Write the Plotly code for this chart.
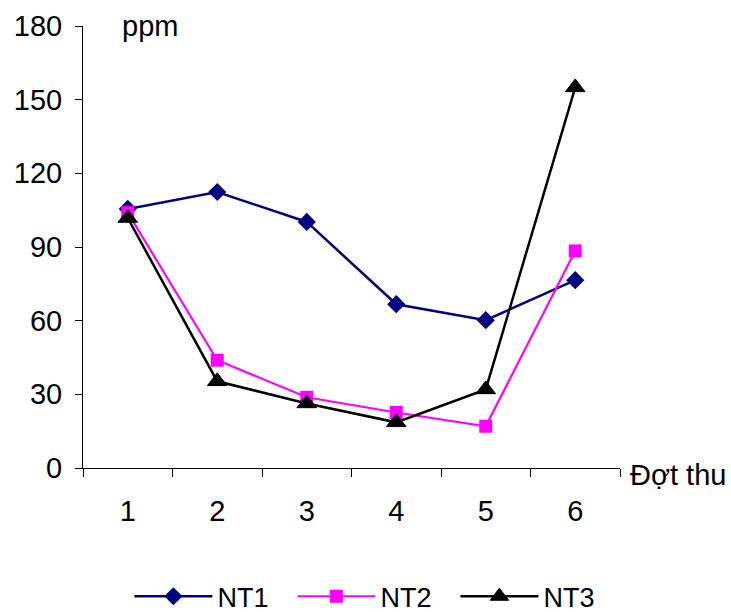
import plotly.graph_objects as go

categories = ["1", "2", "3", "4", "5", "6"]
nt1 = [105.5, 112.4, 100.2, 66.7, 60.2, 76.5]
nt2 = [104.0, 43.9, 28.8, 22.6, 17.0, 88.4]
nt3 = [101.8, 35.3, 26.3, 18.6, 32.0, 155.0]
y_ticks = [0, 30, 60, 90, 120, 150, 180]

FONT = "Liberation Sans, Arial, sans-serif"

fig = go.Figure()
fig.add_trace(go.Scatter(x=categories, y=nt1, name="NT1", mode="lines+markers",
                         line=dict(color="#000080", width=2.5),
                         marker=dict(symbol="diamond", size=14, color="#000080")))
fig.add_trace(go.Scatter(x=categories, y=nt2, name="NT2", mode="lines+markers",
                         line=dict(color="#FF00FF", width=2.2),
                         marker=dict(symbol="square", size=13, color="#FF00FF")))
fig.add_trace(go.Scatter(x=categories, y=nt3, name="NT3", mode="lines+markers",
                         line=dict(color="#000000", width=2.5),
                         marker=dict(symbol="triangle-up", size=17, color="#000000",
                                     line=dict(width=1, color="#000000"))))

fig.update_layout(
    width=731, height=612,
    margin=dict(l=83, r=111, t=26, b=144, autoexpand=False),
    paper_bgcolor="white", plot_bgcolor="white",
    font=dict(family=FONT, size=29, color="black"),
    showlegend=True,
    legend=dict(orientation="h", xref="container", yref="container",
                x=0.177, xanchor="left", y=0.025, yanchor="middle",
                font=dict(size=27), itemwidth=78, entrywidth=70,
                tracegroupgap=0),
    xaxis=dict(type="category", range=[-0.5, 5.5], showline=True, linecolor="black",
               linewidth=1, ticks="outside", tickson="boundaries", ticklen=8,
               tickcolor="black", showgrid=False, zeroline=False,
               ticklabelstandoff=17, tickfont=dict(size=29), automargin=False),
    yaxis=dict(range=[0, 180], tickvals=y_ticks, showline=True, linecolor="black",
               linewidth=1, ticks="outside", ticklen=7, tickcolor="black",
               showgrid=False, zeroline=False, ticklabelstandoff=7,
               tickfont=dict(size=29), automargin=False),
    annotations=[
        dict(text="ppm", xref="paper", yref="paper", x=0.068, y=1.0, xanchor="left",
             yanchor="middle", showarrow=False, font=dict(size=29)),
        dict(text="Đợt thu", xref="paper", yref="paper", x=1.015, y=-0.016,
             xanchor="left", yanchor="middle", showarrow=False, font=dict(size=29)),
    ],
)

fig.write_html("out.html")
